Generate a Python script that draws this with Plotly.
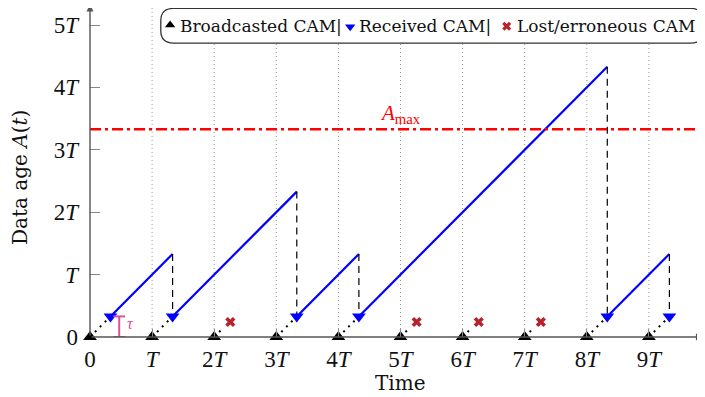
import plotly.graph_objects as go

# ---- data (in units of T) ----
tau = 0.33
broadcast_times = [0, 1, 2, 3, 4, 5, 6, 7, 8, 9]
received_slots = [0, 1, 3, 4, 8, 9]
lost_slots = [2, 5, 6, 7]
lost_offset = 0.26
lost_height = 0.24
A_max = 3.33
x_tick_vals = [0, 1, 2, 3, 4, 5, 6, 7, 8, 9]
x_tick_text = ["0", "<i>T</i>", "2<i>T</i>", "3<i>T</i>", "4<i>T</i>", "5<i>T</i>",
               "6<i>T</i>", "7<i>T</i>", "8<i>T</i>", "9<i>T</i>"]
y_tick_vals = [0, 1, 2, 3, 4, 5]
y_tick_text = ["0", "<i>T</i>", "2<i>T</i>", "3<i>T</i>", "4<i>T</i>", "5<i>T</i>"]
legend_labels = ["Broadcasted CAM|", "Received CAM|", "Lost/erroneous CAM"]

# page has an 8px body margin -> figure is 697x389, offset by 8px
PLOT_W, PLOT_H = 615, 329
XMAX = PLOT_W / 62.1
YMAX = PLOT_H / 62.4
SERIF = "Liberation Serif"
LEG = "DejaVu Serif"

recv_t = [k + tau for k in received_slots]

# sawtooth segments
saw_x, saw_y, drop_x, drop_y = [], [], [], []
for a, b in zip(recv_t[:-1], recv_t[1:]):
    saw_x += [a, b, None]
    saw_y += [tau, tau + (b - a), None]
    drop_x += [b, b, None]
    drop_y += [tau + (b - a), tau, None]

# dotted transmission lines
dot_x, dot_y = [], []
for k in received_slots:
    dot_x += [k, k + tau, None]
    dot_y += [0, tau, None]
for k in lost_slots:
    dot_x += [k, k + 0.14, None]
    dot_y += [0, 0.14, None]

fig = go.Figure()
fig.add_trace(go.Scatter(x=dot_x, y=dot_y, mode="lines",
                         line=dict(color="black", width=2, dash="2px,5px"),
                         cliponaxis=False, hoverinfo="skip"))
fig.add_trace(go.Scatter(x=saw_x, y=saw_y, mode="lines",
                         line=dict(color="#0000ff", width=2.2), cliponaxis=False))
fig.add_trace(go.Scatter(x=drop_x, y=drop_y, mode="lines",
                         line=dict(color="black", width=1.2, dash="7px,5px"), cliponaxis=False))
fig.add_trace(go.Scatter(x=broadcast_times, y=[0] * len(broadcast_times), mode="markers",
                         marker=dict(symbol="triangle-up", size=12, color="black"),
                         cliponaxis=False))
fig.add_trace(go.Scatter(x=recv_t, y=[tau] * len(recv_t), mode="markers",
                         marker=dict(symbol="triangle-down", size=12, color="#0000ff"),
                         cliponaxis=False))
fig.add_trace(go.Scatter(x=[k + lost_offset for k in lost_slots], y=[lost_height] * len(lost_slots),
                         mode="markers", marker=dict(symbol="x", size=9, color="#b8232b"),
                         cliponaxis=False))

shapes = []
# vertical dotted grid
for k in broadcast_times[1:]:
    shapes.append(dict(type="line", x0=k, x1=k, y0=0, y1=5.32, layer="below",
                       line=dict(color="#9a9a9a", width=1, dash="1px,3px")))
# legend box (rounded)
x0, x1, y0, y1, r = 1.14, 9.87, 4.71, 5.265, 0.2
path = (f"M {x0+r},{y0} L {x1-r},{y0} Q {x1},{y0} {x1},{y0+r} L {x1},{y1-r} "
        f"Q {x1},{y1} {x1-r},{y1} L {x0+r},{y1} Q {x0},{y1} {x0},{y1-r} "
        f"L {x0},{y0+r} Q {x0},{y0} {x0+r},{y0} Z")
shapes.append(dict(type="path", path=path, fillcolor="white", layer="below",
                   line=dict(color="#333333", width=1.3)))
# A_max line
shapes.append(dict(type="line", x0=0, x1=XMAX, y0=A_max, y1=A_max,
                   line=dict(color="#ff0000", width=2.4, dash="11px,4px,3px,4px")))
# tau bracket
pink = "#d9539a"
bx, bw = 0.47, 0.095
shapes.append(dict(type="line", x0=bx, x1=bx, y0=0, y1=tau, line=dict(color=pink, width=2)))
shapes.append(dict(type="line", x0=bx - bw, x1=bx + bw, y0=0, y1=0, line=dict(color=pink, width=2)))
shapes.append(dict(type="line", x0=bx - bw, x1=bx + bw, y0=tau, y1=tau, line=dict(color=pink, width=2)))

annotations = []
# axis arrows
annotations.append(dict(x=9.87, y=0, ax=0, ay=0, axref="x", ayref="y", xref="x", yref="y",
                        showarrow=True, arrowhead=2, arrowsize=1, arrowwidth=1.4,
                        arrowcolor="#555555", text=""))
annotations.append(dict(x=0, y=5.33, ax=0, ay=0, axref="x", ayref="y", xref="x", yref="y",
                        showarrow=True, arrowhead=2, arrowsize=1, arrowwidth=1.4,
                        arrowcolor="#555555", text=""))
# legend markers + text
fig.add_trace(go.Scatter(x=[1.29], y=[5.0], mode="markers",
                         marker=dict(symbol="triangle-up", size=9, color="black"), cliponaxis=False))
fig.add_trace(go.Scatter(x=[4.19], y=[4.97], mode="markers",
                         marker=dict(symbol="triangle-down", size=9, color="#0000ff"), cliponaxis=False))
fig.add_trace(go.Scatter(x=[6.71], y=[4.98], mode="markers",
                         marker=dict(symbol="x", size=8, color="#b8232b"), cliponaxis=False))
for xx, txt in zip([1.41, 4.30, 6.85], legend_labels):
    annotations.append(dict(x=xx, y=4.98, xref="x", yref="y", xanchor="left", yanchor="middle",
                            text=txt, showarrow=False, font=dict(family=LEG, size=17, color="#111")))
# A_max label
annotations.append(dict(x=5.0, y=3.57, xref="x", yref="y", text="<i>A</i><sub>max</sub>",
                        showarrow=False, font=dict(family=SERIF, size=21, color="#ff0000")))
# tau label
annotations.append(dict(x=0.56, y=0.22, xref="x", yref="y", xanchor="left", text="<i>τ</i>",
                        showarrow=False, font=dict(family=SERIF, size=16, color=pink)))
# axis titles (positions in figure pixels -> paper)
annotations.append(dict(x=(392 - 82) / PLOT_W, y=(PLOT_H - 375) / PLOT_H, xref="paper", yref="paper",
                        text="Time", showarrow=False, yanchor="middle",
                        font=dict(family=LEG, size=20, color="#111")))
annotations.append(dict(x=(12 - 82) / PLOT_W, y=(PLOT_H - 170) / PLOT_H, xref="paper", yref="paper",
                        text="Data age <i>A</i>(<i>t</i>)", textangle=-90, showarrow=False,
                        xanchor="center", yanchor="middle",
                        font=dict(family=LEG, size=20, color="#111")))

fig.update_layout(
    width=697, height=389,
    margin=dict(l=82, r=0, t=0, b=60, autoexpand=False),
    plot_bgcolor="white", paper_bgcolor="white",
    showlegend=False,
    shapes=shapes, annotations=annotations,
    xaxis=dict(range=[0, XMAX], tickvals=x_tick_vals, ticktext=x_tick_text,
               showgrid=False, zeroline=False, showline=False,
               ticks="inside", ticklen=8, tickcolor="#888", tickwidth=1.2,
               ticklabelstandoff=6,
               tickfont=dict(family=SERIF, size=23, color="#111")),
    yaxis=dict(range=[0, YMAX], tickvals=y_tick_vals, ticktext=y_tick_text,
               showgrid=False, zeroline=False, showline=False,
               ticks="inside", ticklen=10, tickcolor="#888", tickwidth=1.2,
               ticklabelstandoff=11,
               tickfont=dict(family=SERIF, size=23, color="#111")),
)

fig.write_html("out.html")
